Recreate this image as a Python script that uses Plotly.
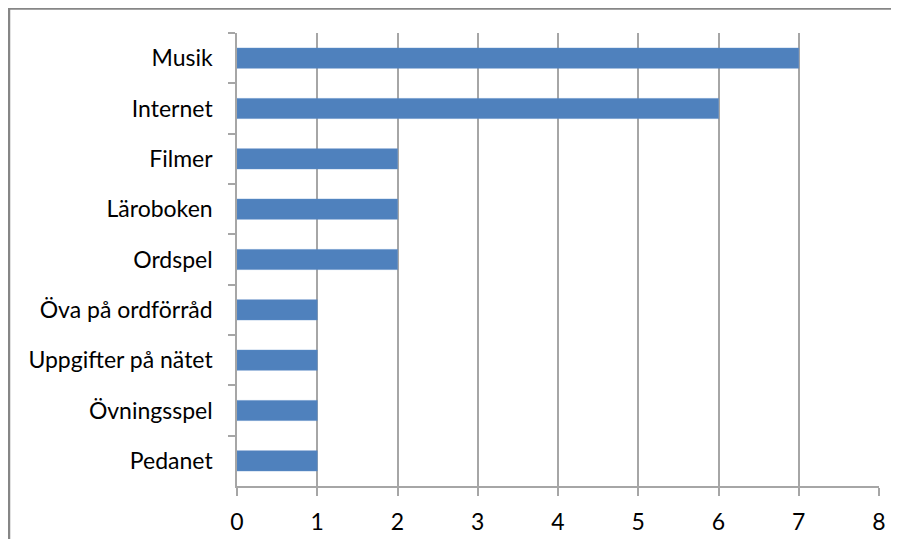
import plotly.graph_objects as go

categories = ["Musik", "Internet", "Filmer", "Läroboken", "Ordspel",
              "Öva på ordförråd", "Uppgifter på nätet", "Övningsspel", "Pedanet"]
values = [7, 6, 2, 2, 2, 1, 1, 1, 1]
x_ticks = [0, 1, 2, 3, 4, 5, 6, 7, 8]

# page body has an 8px margin; keep the figure small enough to avoid scrollbars
W, H = 885, 531
L, R, T, B = 229, 14, 25, 53
pw, ph = W - L - R, H - T - B

fig = go.Figure(go.Bar(
    y=categories, x=values, orientation="h",
    marker=dict(color="#4F81BD", line=dict(color="#5A8AC6", width=0.5)),
))

grid = "#A6A6A6"
font = dict(family="Lato, Carlito, Calibri, sans-serif", size=23, color="#000000")

fig.update_layout(
    width=W, height=H,
    margin=dict(l=L, r=R, t=T, b=B, autoexpand=False),
    paper_bgcolor="white", plot_bgcolor="white",
    bargap=0.6, showlegend=False,
    font=font,
    xaxis=dict(range=[0, 8], tickvals=x_ticks, showgrid=True, gridcolor=grid, gridwidth=1.5,
               showline=True, linecolor=grid, linewidth=1.5,
               ticks="outside", ticklen=8, tickcolor=grid, tickwidth=1.5,
               ticklabelstandoff=7, zeroline=False, fixedrange=True, automargin=False),
    yaxis=dict(categoryorder="array", categoryarray=categories, autorange="reversed",
               showgrid=False, showline=True, linecolor=grid, linewidth=1.5,
               ticks="outside", ticklen=7, tickcolor=grid, tickwidth=1.5,
               tickson="boundaries", ticklabelstandoff=18, fixedrange=True, automargin=False),
)

# outer chart border: only its top and left edges are inside the picture
def px(x):
    return (x - L) / pw

def py(y):
    return (H - B - y) / ph

bx, by = 1, 0.5
path = f"M {px(bx)},{py(H + 20)} L {px(bx)},{py(by)} L {px(W - 2)},{py(by)}"
fig.add_shape(type="path", xref="paper", yref="paper", path=path,
              line=dict(color="#868686", width=2.5), layer="above")

fig.write_html("out.html")
